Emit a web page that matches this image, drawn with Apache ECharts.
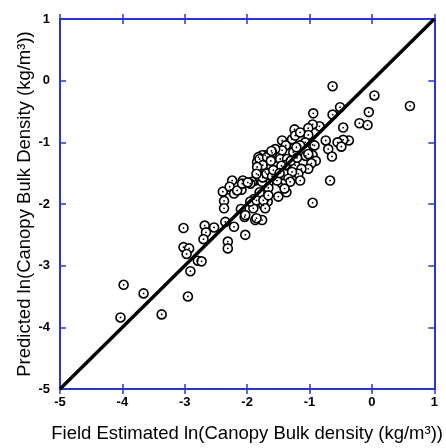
<!DOCTYPE html>
<html>
<head>
<meta charset="utf-8">
<script src="https://cdn.jsdelivr.net/npm/echarts@6/dist/echarts.min.js"></script>
<style>html,body{margin:0;padding:0;background:#fff}#c{width:446px;height:448px}</style>
</head>
<body>
<div id="c"></div>
<script>
const fieldEstimated = [
-0.63,0.04,0.61,-0.51,-0.63,-0.94,-0.05,-0.20,-0.07,-0.46,-0.84,-0.95,-1.02,-1.24,-1.02,-0.37,-0.46,-0.55,-0.49,-0.74,
-0.70,-0.64,-0.95,-1.06,-0.95,-0.90,-0.97,-1.02,-0.67,-0.95,-0.92,-1.07,-1.15,-1.28,-1.26,-1.02,-1.31,
-1.44,-1.38,-1.28,-1.23,-1.15,-1.21,-1.44,-1.55,-1.60,-1.71,-1.76,-1.82,-1.84,-1.79,-1.68,-1.71,-1.82,-1.87,
-1.55,-1.47,-1.36,-1.39,-1.23,-1.13,-1.18,-1.28,-1.34,-1.31,-1.15,-1.44,-1.66,-1.76,-1.92,
-1.37,-1.50,-1.45,-1.80,-1.68,-1.61,-1.75,-1.84,-1.75,-1.66,-1.67,-1.80,-1.74,-1.76,-1.87,-1.90,-1.89,-1.95,
-2.04,-2.10,-2.03,-2.24,-2.07,-2.09,-2.27,-2.39,-2.37,-2.37,-2.35,-2.21,-2.31,-2.31,-2.53,-2.68,-2.66,-2.70,
-3.02,-3.02,-2.93,-2.97,-2.79,-2.73,-2.91,-2.95,-3.98,-3.66,-3.37,-4.03,
-2.28,-2.21,-2.16,-2.08,-1.99,-1.85,-1.69,-1.95,-1.85,-1.74,-1.71,-1.85,-2.03,-1.66,
-1.52,-1.40,-1.60,-1.58,-1.30,-1.20,-1.48,-1.62
];
const predicted = [
-0.09,-0.24,-0.41,-0.43,-0.55,-0.53,-0.51,-0.69,-0.72,-0.76,-0.74,-0.71,-0.77,-0.79,-0.88,-0.97,-0.96,-1.00,-1.07,-0.97,
-1.11,-1.23,-1.04,-1.22,-1.21,-1.30,-1.34,-1.43,-1.62,-1.98,-1.05,-1.00,-1.05,-1.03,-1.16,-1.19,-1.40,
-0.97,-1.05,-0.95,-0.89,-0.84,-1.08,-1.13,-1.11,-1.17,-1.21,-1.21,-1.24,-1.32,-1.35,-1.37,-1.48,-1.53,-1.62,
-1.32,-1.27,-1.27,-1.37,-1.37,-1.43,-1.51,-1.48,-1.59,-1.64,-1.62,-1.67,-1.67,-1.64,-1.64,
-1.81,-1.88,-1.38,-1.27,-1.24,-1.14,-1.37,-1.40,-1.57,-1.74,-1.96,-1.81,-2.02,-2.26,-2.26,-2.07,-1.92,-1.67,
-2.21,-2.08,-2.50,-1.62,-1.62,-1.77,-1.77,-1.80,-1.95,-2.07,-2.29,-2.37,-2.61,-2.72,-2.38,-2.35,-2.46,-2.57,
-2.39,-2.70,-2.72,-2.81,-2.92,-2.93,-3.09,-3.50,-3.31,-3.45,-3.79,-3.84,
-1.72,-1.83,-1.78,-1.67,-1.65,-1.51,-1.51,-1.96,-1.94,-1.94,-2.07,-2.23,-2.18,-1.86,
-1.62,-1.75,-1.55,-1.45,-1.30,-1.25,-1.50,-1.30
];
const tickValues = [-5,-4,-3,-2,-1,0,1];
const oneToOne = [[-5,-5],[1,1]];
const xTitle = 'Field Estimated ln(Canopy Bulk density (kg/m³))';
const yTitle = 'Predicted ln(Canopy Bulk Density (kg/m³))';

const points = fieldEstimated.map((x,i)=>[x, predicted[i]]);
const BLUE = '#2a36d2';
const font = '"Liberation Sans", Arial, Helvetica, sans-serif';
const chart = echarts.init(document.getElementById('c'), null, {renderer:'canvas'});
const baseX = {type:'value', min:tickValues[0], max:tickValues[tickValues.length-1], interval:1, splitLine:{show:false},
  axisLine:{show:true, onZero:false, lineStyle:{color:BLUE, width:2}},
  axisTick:{show:true, lineStyle:{color:BLUE, width:1.5}, length:5}};
const baseY = {type:'value', min:tickValues[0], max:tickValues[tickValues.length-1], interval:1, splitLine:{show:false},
  axisLine:{show:true, onZero:false, lineStyle:{color:BLUE, width:2}},
  axisTick:{show:true, inside:true, lineStyle:{color:BLUE, width:1.5}, length:6}};
chart.setOption({
  animation:false,
  backgroundColor:'#fff',
  grid:{left:60, right:9, top:19, bottom:56},
  xAxis:[
    Object.assign({}, baseX, {position:'bottom',
      axisTick:{show:true, inside:false, length:5, lineStyle:{color:BLUE, width:1.5}},
      axisLabel:{show:true, color:'#000', fontFamily:font, fontSize:13, fontWeight:'bold', margin:7,
        formatter:v=>String(v)},
      name:xTitle, nameLocation:'middle', nameGap:35, nameMoveOverlap:false,
      nameTextStyle:{color:'#000', fontFamily:font, fontSize:18.5}}),
    Object.assign({}, baseX, {position:'bottom', axisTick:{show:true, inside:true, length:5, lineStyle:{color:BLUE, width:1.5}}, axisLabel:{show:false}}),
    Object.assign({}, baseX, {position:'top', axisTick:{show:true, inside:false, length:5, lineStyle:{color:BLUE, width:1.5}}, axisLabel:{show:false}}),
    Object.assign({}, baseX, {position:'top', axisTick:{show:true, inside:true, length:5, lineStyle:{color:BLUE, width:1.5}}, axisLabel:{show:false}})
  ],
  yAxis:[
    Object.assign({}, baseY, {position:'left',
      axisLabel:{show:true, color:'#000', fontFamily:font, fontSize:13, fontWeight:'bold', margin:10,
        formatter:v=>String(v)},
      name:yTitle, nameLocation:'middle', nameGap:26, nameRotate:90, nameMoveOverlap:false,
      nameTextStyle:{color:'#000', fontFamily:font, fontSize:18.5}}),
    Object.assign({}, baseY, {position:'right', axisLabel:{show:false}})
  ],
  series:[
    {type:'scatter', data:points, symbol:'circle', symbolSize:9,
      itemStyle:{color:'#fff', borderColor:'#000', borderWidth:1.6, opacity:1}, z:2},
    {type:'scatter', data:points, symbol:'circle', symbolSize:1.8,
      itemStyle:{color:'#000', opacity:1}, z:3},
    {type:'line', data:oneToOne, symbol:'none', lineStyle:{color:'#000', width:3.4}, z:4}
  ]
});
</script>
</body>
</html>
